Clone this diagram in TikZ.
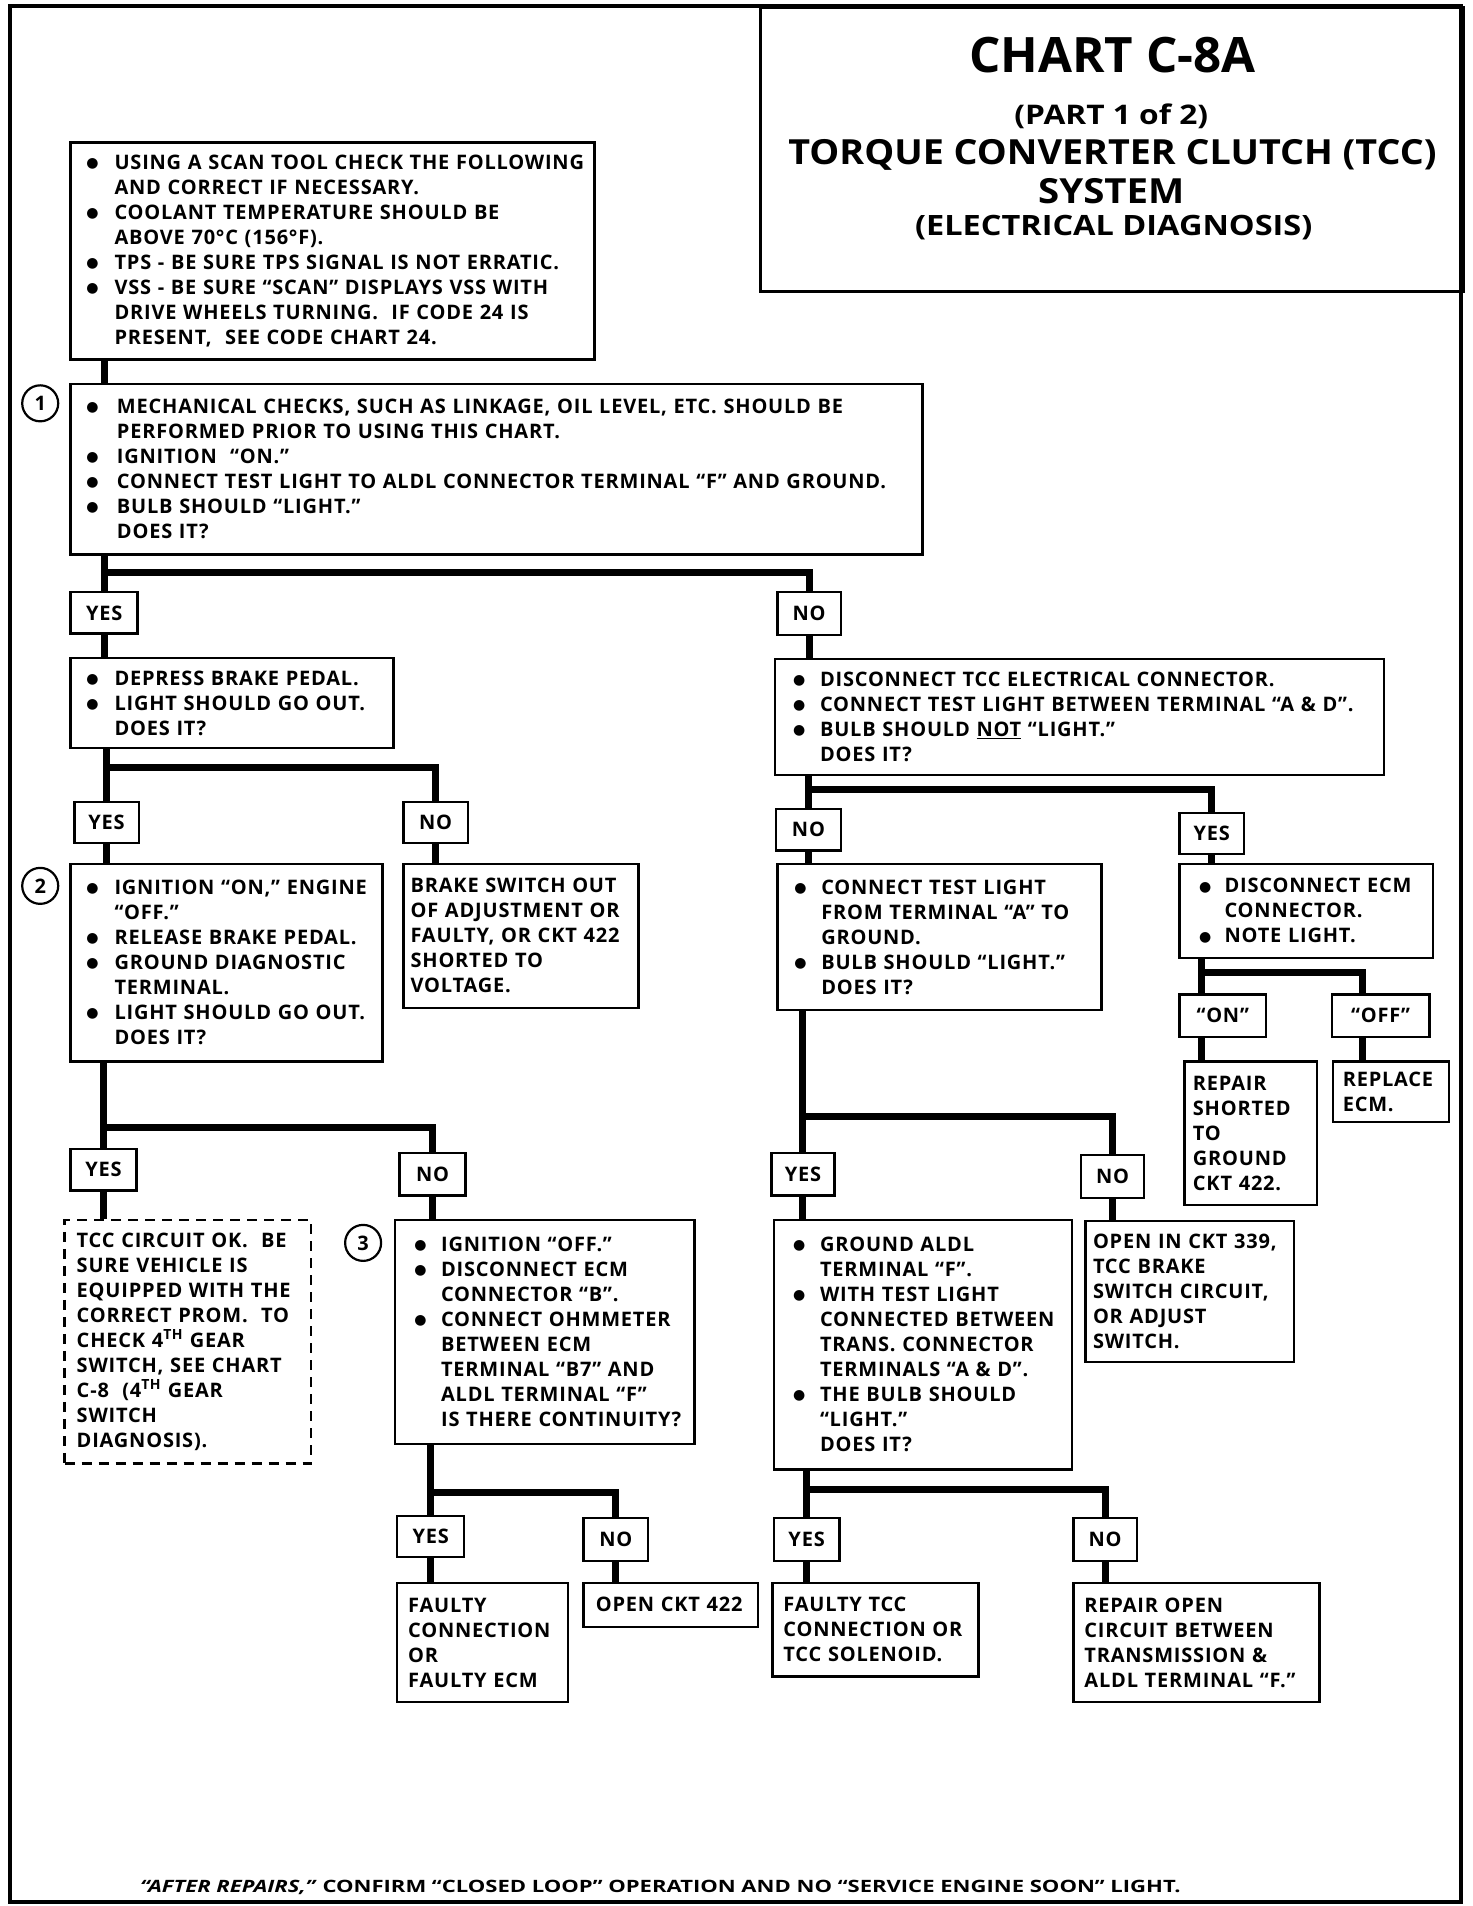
\documentclass[tikz,border=0pt]{standalone}
\usepackage{fontspec}
\usepackage{graphicx}
\newfontfamily\bodyf{Open Sans}[LetterSpace=4.0]
\newfontfamily\titlef{Open Sans}
\newfontfamily\symf{DejaVu Sans}
\newlength\pxu
\setlength\pxu{1.2185pt}
\newcommand\bxpad{0pt}
\newcommand\bxind{0pt}
\newcommand\bmark{\raisebox{1.8pt}{\symf\fontsize{14pt}{14pt}\selectfont ●}}
\newcommand\bl[1]{\hspace*{\bxpad}\makebox[\bxind][l]{\bmark}#1}
\newcommand\cl[1]{\hspace*{\bxpad}\hspace*{\bxind}#1}
\newcommand\pl[1]{\hspace*{\bxpad}#1}
\newcommand\bx[9]{%
  \pgfmathsetlengthmacro\bxw{#5*\pxu}%
  \pgfmathsetlengthmacro\bxh{#6*\pxu}%
  \renewcommand\bxpad{#7\pxu}\renewcommand\bxind{#8\pxu}%
  \node[#1,minimum width=\bxw,minimum height=\bxh,text width=\bxw] (#2) at (#3,#4) {#9};}
\newcommand\lb[6]{%
  \pgfmathsetlengthmacro\bxw{#4*\pxu}%
  \pgfmathsetlengthmacro\bxh{#5*\pxu}%
  \node[lab,minimum width=\bxw,minimum height=\bxh] (#1) at (#2,#3) {#6};}
\tikzset{
  bodyfont/.style={font=\bodyf\bfseries\fontsize{20pt}{25pt}\selectfont},
  box/.style={draw, line width=2.4pt, anchor=north west, align=left,
    inner xsep=0pt, inner ysep=0pt, bodyfont},
  dbox/.style={box, dash pattern=on 10pt off 7pt},
  lab/.style={draw, line width=2.4pt, anchor=north west, align=center,
    inner sep=0pt, bodyfont},
  numc/.style={circle, draw, line width=2.2pt, minimum size=36pt,
    inner sep=0pt, bodyfont},
  conn/.style={line width=7pt},
  ttl/.style={anchor=base, inner sep=0pt, font=\titlef\bfseries},
}
\begin{document}
\begin{tikzpicture}[x=1.2185pt,y=-1.2185pt]
\useasboundingbox (0,0) rectangle (1208.05,1564.2);
% outer frame
\draw[line width=4pt] (8,5) rectangle (1199,1561);
% title
\node[draw, line width=2.6pt, anchor=north west, inner sep=0pt,
  minimum width=577*1.2185pt, minimum height=233*1.2185pt] (title) at (623,5) {};
\node[ttl] (t1) at (913,59.6) {\resizebox{235\pxu}{\height}{\fontsize{48.8pt}{50pt}\selectfont CHART C-8A}};
\node[ttl] (t2) at (912,102) {\resizebox{159\pxu}{\height}{\fontsize{27pt}{30pt}\selectfont (PART 1 of 2)}};
\node[ttl] (t3) at (913,135) {\resizebox{532\pxu}{\height}{\fontsize{34.6pt}{36pt}\selectfont TORQUE CONVERTER CLUTCH (TCC)}};
\node[ttl] (t4) at (912,167) {\resizebox{120\pxu}{\height}{\fontsize{34.6pt}{36pt}\selectfont SYSTEM}};
\node[ttl] (t5) at (914,193) {\resizebox{326\pxu}{\height}{\fontsize{28pt}{30pt}\selectfont (ELECTRICAL DIAGNOSIS)}};
% boxes
\bx{box}{A}{57}{116}{430}{178}{13}{23}{%
\bl{USING A SCAN TOOL CHECK THE FOLLOWING}\\
\cl{AND CORRECT IF NECESSARY.}\\
\bl{COOLANT TEMPERATURE SHOULD BE}\\
\cl{ABOVE 70°C (156°F).}\\
\bl{TPS - BE SURE TPS SIGNAL IS NOT ERRATIC.}\\
\bl{VSS - BE SURE “SCAN” DISPLAYS VSS WITH}\\
\cl{DRIVE WHEELS TURNING.~ IF CODE 24 IS}\\
\cl{PRESENT,~ SEE CODE CHART 24.}}
\bx{box}{B1}{57}{314}{699}{140}{13}{25}{%
\bl{MECHANICAL CHECKS, SUCH AS LINKAGE, OIL LEVEL, ETC. SHOULD BE}\\
\cl{PERFORMED PRIOR TO USING THIS CHART.}\\
\bl{IGNITION~ “ON.”}\\
\bl{CONNECT TEST LIGHT TO ALDL CONNECTOR TERMINAL “F” AND GROUND.}\\
\bl{BULB SHOULD “LIGHT.”}\\
\cl{DOES IT?}}
\bx{box}{BB}{57}{539}{265}{74}{13}{23}{%
\bl{DEPRESS BRAKE PEDAL.}\\
\bl{LIGHT SHOULD GO OUT.}\\
\cl{DOES IT?}}
\bx{box}{B2}{57}{708}{256}{162}{13}{23}{%
\bl{IGNITION “ON,” ENGINE}\\
\cl{“OFF.”}\\
\bl{RELEASE BRAKE PEDAL.}\\
\bl{GROUND DIAGNOSTIC}\\
\cl{TERMINAL.}\\
\bl{LIGHT SHOULD GO OUT.}\\
\cl{DOES IT?}}
\bx{box}{BR}{330}{708}{193}{118}{6}{0}{%
\pl{BRAKE SWITCH OUT}\\
\pl{OF ADJUSTMENT OR}\\
\pl{FAULTY, OR CKT 422}\\
\pl{SHORTED TO}\\
\pl{VOLTAGE.}}
\bx{dbox}{TCCOK}{52}{1000}{202}{200}{10}{0}{%
\pl{TCC CIRCUIT OK.~ BE}\\
\pl{SURE VEHICLE IS}\\
\pl{EQUIPPED WITH THE}\\
\pl{CORRECT PROM.~ TO}\\
\pl{CHECK 4\textsuperscript{TH} GEAR}\\
\pl{SWITCH, SEE CHART}\\
\pl{C-8~ (4\textsuperscript{TH} GEAR}\\
\pl{SWITCH}\\
\pl{DIAGNOSIS).}}
\bx{box}{B3}{323}{1000}{246}{184}{16}{22}{%
\bl{IGNITION “OFF.”}\\
\bl{DISCONNECT ECM}\\
\cl{CONNECTOR “B”.}\\
\bl{CONNECT OHMMETER}\\
\cl{BETWEEN ECM}\\
\cl{TERMINAL “B7” AND}\\
\cl{ALDL TERMINAL “F”}\\
\cl{IS THERE CONTINUITY?}}
\bx{box}{FC}{325}{1298}{140}{98}{9}{0}{%
\pl{FAULTY}\\
\pl{CONNECTION}\\
\pl{OR}\\
\pl{FAULTY ECM}}
\bx{box}{O422}{478}{1298}{143}{36}{10}{0}{%
\pl{OPEN CKT 422}}
\bx{box}{BC}{635}{540}{500}{95}{15}{22}{%
\bl{DISCONNECT TCC ELECTRICAL CONNECTOR.}\\
\bl{CONNECT TEST LIGHT BETWEEN TERMINAL “A \& D”.}\\
\bl{BULB SHOULD \underline{NOT} “LIGHT.”}\\
\cl{DOES IT?}}
\bx{box}{BD}{637}{708}{266}{120}{14}{22}{%
\bl{CONNECT TEST LIGHT}\\
\cl{FROM TERMINAL “A” TO}\\
\cl{GROUND.}\\
\bl{BULB SHOULD “LIGHT.”}\\
\cl{DOES IT?}}
\bx{box}{BE}{967}{708}{208}{77}{16}{21}{%
\bl{DISCONNECT ECM}\\
\cl{CONNECTOR.}\\
\bl{NOTE LIGHT.}}
\bx{box}{RS}{971}{870}{109}{118}{7}{0}{%
\pl{REPAIR}\\
\pl{SHORTED}\\
\pl{TO}\\
\pl{GROUND}\\
\pl{CKT 422.}}
\bx{box}{RE}{1093}{870}{95}{50}{8}{0}{%
\pl{REPLACE}\\
\pl{ECM.}}
\bx{box}{BF}{634}{1000}{245}{205}{16}{22}{%
\bl{GROUND ALDL}\\
\cl{TERMINAL “F”.}\\
\bl{WITH TEST LIGHT}\\
\cl{CONNECTED BETWEEN}\\
\cl{TRANS. CONNECTOR}\\
\cl{TERMINALS “A \& D”.}\\
\bl{THE BULB SHOULD}\\
\cl{“LIGHT.”}\\
\cl{DOES IT?}}
\bx{box}{BG}{890}{1001}{171}{116}{6}{0}{%
\pl{OPEN IN CKT 339,}\\
\pl{TCC BRAKE}\\
\pl{SWITCH CIRCUIT,}\\
\pl{OR ADJUST}\\
\pl{SWITCH.}}
\bx{box}{FT}{633}{1298}{169}{77}{9}{0}{%
\pl{FAULTY TCC}\\
\pl{CONNECTION OR}\\
\pl{TCC SOLENOID.}}
\bx{box}{RO}{880}{1298}{202}{98}{9}{0}{%
\pl{REPAIR OPEN}\\
\pl{CIRCUIT BETWEEN}\\
\pl{TRANSMISSION \&}\\
\pl{ALDL TERMINAL “F.”}}
% labels
\lb{yes1}{57}{485}{55}{34}{YES}
\lb{no1}{637}{485}{52}{35}{NO}
\lb{yes2}{60}{657}{53}{34}{YES}
\lb{no2}{330}{657}{53}{34}{NO}
\lb{yes3}{57}{942}{54}{34}{YES}
\lb{no3}{327}{945}{54}{35}{NO}
\lb{yes4}{325}{1243}{55}{34}{YES}
\lb{no4}{478}{1245}{53}{35}{NO}
\lb{noC}{636}{663}{53}{34}{NO}
\lb{yesC}{967}{666}{53}{34}{YES}
\lb{on}{967}{815}{71}{35}{“ON”}
\lb{off}{1092}{815}{80}{35}{“OFF”}
\lb{yesD}{632}{945}{52}{35}{YES}
\lb{noD}{886}{947}{52}{35}{NO}
\lb{yesF}{634}{1245}{54}{35}{YES}
\lb{noF}{880}{1245}{52}{35}{NO}
% number circles
\node[numc] (c1) at (33,331) {1};
\node[numc] (c2) at (33,727) {2};
\node[numc] (c3) at (298,1020) {3};
% bar levels
\coordinate (s1) at (0,470);
\coordinate (sB) at (0,630);
\coordinate (s2) at (0,925);
\coordinate (s3) at (0,1225);
\coordinate (sC) at (0,648);
\coordinate (sE) at (0,798);
\coordinate (sD) at (0,916);
\coordinate (sF) at (0,1222);
\coordinate (onx) at (986,0);
\coordinate (offx) at (1118,0);
% connectors
\draw[conn] (A.south -| yes1.north) -- (B1.north -| yes1.north);
\draw[conn] (B1.south -| yes1.north) -- (yes1.north);
\draw[conn] (yes1.north |- s1) -| (no1.north);
\draw[conn] (yes1.south) -- (yes1.south |- BB.north);
\draw[conn] (no1.south) -- (no1.south |- BC.north);
\draw[conn] (BB.south -| yes2.north) -- (yes2.north);
\draw[conn] (yes2.north |- sB) -| (no2.north);
\draw[conn] (yes2.south) -- (yes2.south |- B2.north);
\draw[conn] (no2.south) -- (no2.south |- BR.north);
\draw[conn] (B2.south -| yes3.north) -- (yes3.north);
\draw[conn] (yes3.north |- s2) -| (no3.north);
\draw[conn] (yes3.south) -- (yes3.south |- TCCOK.north);
\draw[conn] (no3.south) -- (no3.south |- B3.north);
\draw[conn] (B3.south -| yes4.north) -- (yes4.north);
\draw[conn] (yes4.north |- s3) -| (no4.north);
\draw[conn] (yes4.south) -- (yes4.south |- FC.north);
\draw[conn] (no4.south) -- (no4.south |- O422.north);
\draw[conn] (BC.south -| noC.north) -- (noC.north);
\draw[conn] (noC.north |- sC) -| (yesC.north);
\draw[conn] (noC.south) -- (noC.south |- BD.north);
\draw[conn] (yesC.south) -- (yesC.south |- BE.north);
\draw[conn] (BE.south -| onx) -- (on.north -| onx);
\draw[conn] (onx |- sE) -| (offx |- off.north);
\draw[conn] (on.south -| onx) -- (RS.north -| onx);
\draw[conn] (off.south -| offx) -- (RE.north -| offx);
\draw[conn] (BD.south -| yesD.north) -- (yesD.north);
\draw[conn] (yesD.north |- sD) -| (noD.north);
\draw[conn] (yesD.south) -- (yesD.south |- BF.north);
\draw[conn] (noD.south) -- (noD.south |- BG.north);
\draw[conn] (BF.south -| yesF.north) -- (yesF.north);
\draw[conn] (yesF.north |- sF) -| (noF.north);
\draw[conn] (yesF.south) -- (yesF.south |- FT.north);
\draw[conn] (noF.south) -- (noF.south |- RO.north);
% footer
\node[ttl] (foot) at (542,1553) {\resizebox{854\pxu}{\height}{\fontsize{17pt}{20pt}\selectfont \textit{“AFTER REPAIRS,”} CONFIRM “CLOSED LOOP” OPERATION AND NO “SERVICE ENGINE SOON” LIGHT.}};
\end{tikzpicture}
\end{document}
